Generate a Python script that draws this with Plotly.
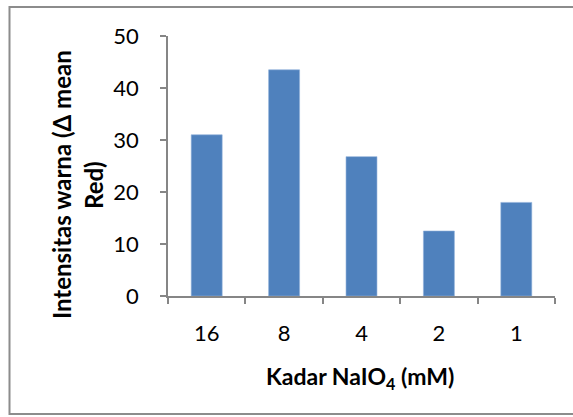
import plotly.graph_objects as go

categories = ["16", "8", "4", "2", "1"]
values = [31.0, 43.5, 26.8, 12.5, 18.0]
y_ticks = [0, 10, 20, 30, 40, 50]

FONT = "Lato"
AXIS_COL = "#868686"

fig = go.Figure()
fig.add_trace(go.Bar(
    x=categories, y=values,
    marker=dict(color="#4F81BD", line=dict(color="#8FB0DA", width=0.6)),
    width=0.4,
))

W, H = 573, 417
L, R, T, B = 168, 18, 36, 121
pw, ph = W - L - R, H - T - B

def px(x):
    return (x - L) / pw

def py(y):
    return (H - B - y) / ph

border = dict(color="#8C8C8C", width=2)

fig.update_layout(
    width=W, height=H,
    margin=dict(l=L, r=R, t=T, b=B),
    paper_bgcolor="white", plot_bgcolor="white",
    showlegend=False,
    font=dict(family=FONT, size=18, color="black"),
    xaxis=dict(
        type="category",
        showline=True, linecolor=AXIS_COL, linewidth=1.5,
        ticks="outside", tickson="boundaries", ticklen=6, tickcolor=AXIS_COL, tickwidth=1.5,
        tickfont=dict(family=FONT, size=22, color="black"),
        ticklabelstandoff=17,
        showgrid=False, zeroline=False,
    ),
    yaxis=dict(
        range=[0, 50], tickvals=y_ticks,
        showline=True, linecolor=AXIS_COL, linewidth=1.5,
        ticks="outside", ticklen=6, tickcolor=AXIS_COL, tickwidth=1.5,
        tickfont=dict(family=FONT, size=22, color="black"),
        ticklabelstandoff=17,
        showgrid=False, zeroline=False,
    ),
    annotations=[
        dict(text="<b>Intensitas warna (Δ mean</b>", textangle=-90,
             xref="paper", yref="paper", x=px(61), y=py(185),
             xanchor="center", yanchor="middle", showarrow=False,
             font=dict(family=FONT, size=24, color="black")),
        dict(text="<b>Red)</b>", textangle=-90,
             xref="paper", yref="paper", x=px(93), y=py(185),
             xanchor="center", yanchor="middle", showarrow=False,
             font=dict(family=FONT, size=24, color="black")),
        dict(text="<b>Kadar NaIO<sub>4</sub> (mM)</b>",
             xref="paper", yref="paper", x=px(360), y=py(377),
             xanchor="center", yanchor="middle", showarrow=False,
             font=dict(family=FONT, size=23, color="black")),
    ],
    shapes=[
        dict(type="rect", xref="paper", yref="paper",
             x0=px(9.5), x1=px(590), y0=py(414), y1=py(7),
             line=border, fillcolor="rgba(0,0,0,0)", layer="above"),
    ],
)

fig.write_html("out.html", config={"displayModeBar": False},
               post_script="document.body.style.margin='0';document.body.style.overflow='hidden';")
